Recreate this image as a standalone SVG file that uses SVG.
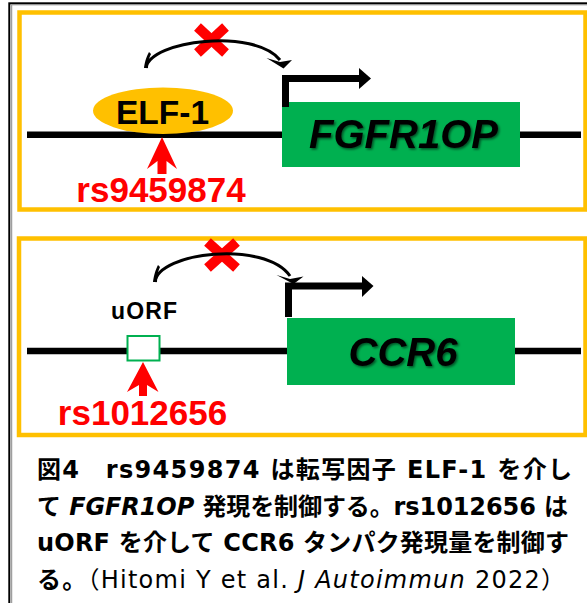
<svg xmlns="http://www.w3.org/2000/svg" width="587" height="603" viewBox="0 0 587 603">
<defs>
<style>
.panel{fill:#fff;stroke:#FFC000;stroke-width:4.5}
.dna{stroke:#000;stroke-width:6.5;fill:none}
.gene{fill:#00B050}
.genetxt{font-family:"Liberation Sans",Arial,sans-serif;font-weight:bold;font-style:italic;font-size:40px;fill:#000;text-anchor:middle}
.snp{font-family:"Liberation Sans",Arial,sans-serif;font-weight:bold;font-size:35px;fill:#FF0000;text-anchor:middle}
.red{fill:#FF0000}
.xmark{stroke:#FF0000;stroke-width:10;fill:none}
.curve{stroke:#000;stroke-width:3;fill:none}
.prom{stroke:#000;stroke-width:7;fill:none}
.cap{font-family:"DejaVu Sans","Noto Sans CJK JP",sans-serif;font-size:24px;fill:#000}
</style>
<filter id="sh" x="-10%" y="-20%" width="130%" height="150%">
<feDropShadow dx="1.5" dy="1.5" stdDeviation="1" flood-color="#000" flood-opacity="0.55"/>
</filter>
</defs>
<rect width="587" height="603" fill="#fff"/>
<g id="frame">
<rect x="9.3" y="3.3" width="600" height="620" fill="none" stroke="#000" stroke-width="2"/>
<rect x="11.7" y="4.8" width="600" height="620" fill="none" stroke="#888" stroke-width="1"/>
</g>
<g id="panel1">
<rect class="panel" x="19.5" y="12.5" width="566" height="197"/>
<line class="dna" x1="27" y1="134.7" x2="581" y2="134.7"/>
</g>
<g id="panel2">
<rect class="panel" x="19" y="238.5" width="566.5" height="196.5"/>
<line class="dna" x1="27" y1="351" x2="581" y2="351"/>
</g>
<g id="elf1">
<ellipse cx="163" cy="110.7" rx="70" ry="23.3" fill="#FFC000"/>
<text x="162.5" y="124" font-family="Liberation Sans, Arial, sans-serif" font-weight="bold" font-size="33.5" text-anchor="middle" fill="#000">ELF-1</text>
</g>
<g id="fgfr1op">
<rect class="gene" x="282" y="102" width="238" height="65"/>
<text class="genetxt" x="403.5" y="148.3" filter="url(#sh)">FGFR1OP</text>
</g>
<g id="uorf">
<text x="144" y="319" font-family="Liberation Sans, Arial, sans-serif" font-weight="bold" font-size="23" text-anchor="middle" fill="#000" textLength="66">uORF</text>
<rect x="127.5" y="336" width="32" height="24.5" fill="#fff" stroke="#00B050" stroke-width="2"/>
</g>
<g id="ccr6">
<rect class="gene" x="287" y="318" width="228" height="67"/>
<text class="genetxt" x="403" y="365.7" filter="url(#sh)">CCR6</text>
</g>
<g id="snp1">
<path class="red" d="M162,137 L177,169 L166.5,161 L166.5,174 L157.5,174 L157.5,161 L147,169 Z"/>
<text class="snp" x="161" y="201.7">rs9459874</text>
</g>
<g id="snp2">
<path class="red" d="M143,362 L158.5,392 L147,385 L147,396 L139,396 L139,385 L127,392 Z"/>
<text class="snp" x="142.5" y="425">rs1012656</text>
</g>
<g id="block1">
<line class="xmark" x1="197.5" y1="27" x2="225.5" y2="53"/>
<line class="xmark" x1="225.5" y1="27" x2="197.5" y2="53"/>
</g>
<g id="block2">
<line class="xmark" x1="207.5" y1="242" x2="236.5" y2="268"/>
<line class="xmark" x1="236.5" y1="242" x2="207.5" y2="268"/>
</g>
<g id="connectors">
<path class="curve" d="M146,68 C150,40 255,28 280,60"/>
<path d="M144,68 C145,60 147,56 149,52 L151,54 C149,58 148,62 148,68 Z" fill="#000"/>
<polygon points="266.5,58 280,62 292,60 283.5,68.5" fill="#000"/>
<path class="prom" d="M285.5,107 V78.5 H361"/>
<polygon points="359,68 371,78.5 359,89" fill="#000"/>
<path class="curve" d="M155,282 C158,252 265,240 290,276"/>
<path d="M153,282 C154,274 156,269 158,265 L160,267 C158,271 157,276 157,282 Z" fill="#000"/>
<polygon points="276.5,275 290,279 303.5,276.5 293.5,284" fill="#000"/>
<path class="prom" d="M288.5,317 V286 H364"/>
<polygon points="362,276 373.5,286 362,297" fill="#000"/>
</g>
<g id="caption">
<text class="cap" x="37" y="478" font-weight="bold" textLength="535" lengthAdjust="spacing">図4　rs9459874 は転写因子 ELF-1 を介し</text>
<text class="cap" x="37" y="514.7" font-weight="bold" textLength="531" lengthAdjust="spacing">て <tspan font-style="italic">FGFR1OP</tspan> 発現を制御する。rs1012656 は</text>
<text class="cap" x="37" y="551.3" font-weight="bold" textLength="532" lengthAdjust="spacing">uORF を介して CCR6 タンパク発現量を制御す</text>
<text class="cap" x="37" y="588" textLength="528" lengthAdjust="spacing"><tspan font-weight="bold">る。</tspan>（Hitomi Y et al. <tspan font-style="italic">J Autoimmun</tspan> 2022）</text>
</g>
</svg>
